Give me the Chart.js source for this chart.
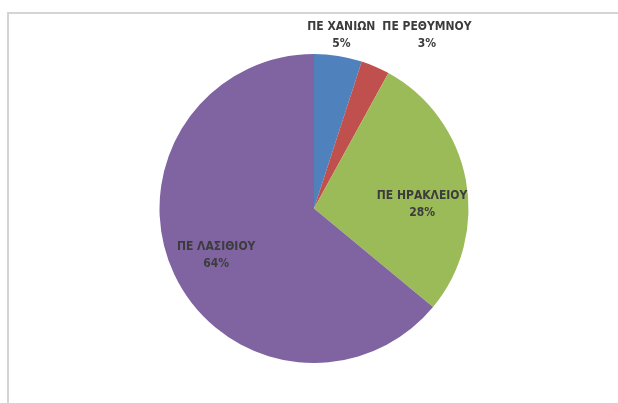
<!DOCTYPE html>
<html>
<head>
<meta charset="utf-8">
<script src="https://cdn.jsdelivr.net/npm/chart.js@4"></script>
<style>
  html, body { margin: 0; padding: 0; background: #fff; }
  #wrap { width: 618px; height: 403px; }
</style>
</head>
<body>
<div id="wrap"><canvas id="pieChart" width="618" height="403"></canvas></div>
<script>
// Δεδομένα
var regions = ['ΠΕ ΧΑΝΙΩΝ', 'ΠΕ ΡΕΘΥΜΝΟΥ', 'ΠΕ ΗΡΑΚΛΕΙΟΥ', 'ΠΕ ΛΑΣΙΘΙΟΥ'];
var shares = [5, 3, 28, 64];
var sliceColors = ['#4F81BD', '#C0504D', '#9BBB59', '#8064A2'];

var labelFont = 'bold 12px "Liberation Sans Narrow", "DejaVu Sans Condensed", sans-serif';

// πλαίσιο γύρω από το γράφημα
var framePlugin = {
    id: 'frame',
    beforeDraw: function (chart) {
        var ctx = chart.ctx;
        ctx.save();
        ctx.strokeStyle = '#d4d4d4';
        ctx.lineWidth = 2;
        ctx.beginPath();
        ctx.moveTo(8, chart.height);
        ctx.lineTo(8, 13);
        ctx.lineTo(chart.width, 13);
        ctx.stroke();
        ctx.restore();
    }
};

// ετικέτες δεδομένων (όνομα + ποσοστό)
var labelPlugin = {
    id: 'sliceLabels',
    afterDatasetsDraw: function (chart) {
        var ctx = chart.ctx;
        var meta = chart.getDatasetMeta(0);
        var total = shares.reduce(function (a, b) { return a + b; }, 0);
        ctx.save();
        ctx.font = labelFont;
        ctx.fillStyle = '#3c3c3c';
        ctx.textAlign = 'center';
        ctx.textBaseline = 'middle';
        var prevRight = null;
        meta.data.forEach(function (arc, i) {
            var pct = Math.round(shares[i] / total * 100) + '%';
            var mid = (arc.startAngle + arc.endAngle) / 2;
            var r = arc.outerRadius;
            var x, y;
            if (shares[i] / total < 0.1) {
                // μικρά κομμάτια: ετικέτα πάνω από την πίτα
                var w = ctx.measureText(regions[i]).width;
                x = arc.x + Math.cos(mid) * r * 1.13;
                if (prevRight !== null && x - w / 2 < prevRight + 7) {
                    x = prevRight + 7 + w / 2;
                }
                prevRight = x + w / 2;
                y = arc.y - r - 19;
            } else {
                // μέσα στο κομμάτι, λίγο πιο κάτω όπως στο Excel (best fit)
                var a = mid + (i === 2 ? 0.15 : 0);
                x = arc.x + Math.cos(a) * r * 0.7;
                y = arc.y + Math.sin(a) * r * 0.7;
            }
            ctx.fillText(regions[i], x, y - 8);
            ctx.fillText(pct, x, y + 9);
        });
        ctx.restore();
    }
};

var ctx = document.getElementById('pieChart').getContext('2d');
var pieChart = new Chart(ctx, {
    type: 'pie',
    data: {
        labels: regions,
        datasets: [{
            data: shares,
            backgroundColor: sliceColors,
            borderWidth: 0
        }]
    },
    options: {
        responsive: false,
        animation: false,
        layout: {
            padding: { top: 54, bottom: 40, left: 159, right: 149 }
        },
        plugins: {
            legend: { display: false },
            tooltip: { enabled: false }
        }
    },
    plugins: [framePlugin, labelPlugin]
});
</script>
</body>
</html>
